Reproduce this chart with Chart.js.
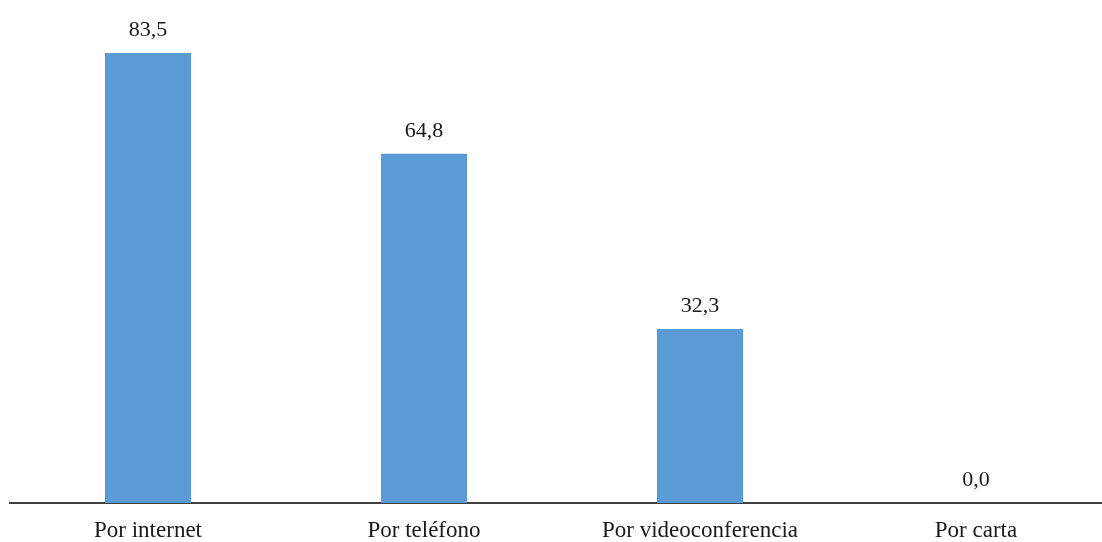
<!DOCTYPE html>
<html lang="es">
<head>
    <meta charset="UTF-8">
    <title>Canales de contacto</title>
    <script src="https://cdn.jsdelivr.net/npm/chart.js"></script>
    <style>
        html, body {
            margin: 0;
            padding: 0;
            background: #ffffff;
            overflow: hidden;
        }
        #wrap {
            width: 1116px;
            height: 542px;
        }
    </style>
</head>
<body>
    <div id="wrap">
        <canvas id="canales" width="1116" height="542"></canvas>
    </div>

    <script>
        const categorias = ['Por internet', 'Por teléfono', 'Por videoconferencia', 'Por carta'];
        const porcentajes = [83.5, 64.8, 32.3, 0.0];

        const fuente = '"Liberation Serif", "DejaVu Serif", serif';

        // values printed above each bar, Spanish decimal comma
        const etiquetasValor = {
            id: 'etiquetasValor',
            afterDatasetsDraw(chart) {
                const ctx = chart.ctx;
                const meta = chart.getDatasetMeta(0);
                ctx.save();
                ctx.font = '22px ' + fuente;
                ctx.fillStyle = '#1a1a1a';
                ctx.textAlign = 'center';
                ctx.textBaseline = 'alphabetic';
                meta.data.forEach((bar, i) => {
                    const txt = porcentajes[i].toFixed(1).replace('.', ',');
                    ctx.fillText(txt, bar.x, bar.y - 17);
                });
                ctx.restore();
            }
        };

        new Chart(document.getElementById('canales').getContext('2d'), {
            type: 'bar',
            data: {
                labels: categorias,
                datasets: [{
                    data: porcentajes,
                    backgroundColor: '#5b9bd5',
                    barPercentage: 0.312,
                    categoryPercentage: 1.0
                }]
            },
            options: {
                responsive: false,
                animation: false,
                layout: {
                    padding: { top: 18, left: 10, right: 2, bottom: 0 }
                },
                plugins: {
                    legend: { display: false },
                    tooltip: { enabled: false }
                },
                scales: {
                    x: {
                        grid: { display: false, drawTicks: false },
                        border: { display: true, color: '#404040', width: 2 },
                        ticks: {
                            color: '#1a1a1a',
                            font: { family: fuente, size: 23, lineHeight: 1.0 },
                            padding: 16
                        },
                        // keep the label strip tight under the baseline
                        afterFit(scale) {
                            scale.height = 39;
                        }
                    },
                    y: {
                        display: false,
                        min: 0,
                        max: 90
                    }
                }
            },
            plugins: [etiquetasValor]
        });
    </script>
</body>
</html>
